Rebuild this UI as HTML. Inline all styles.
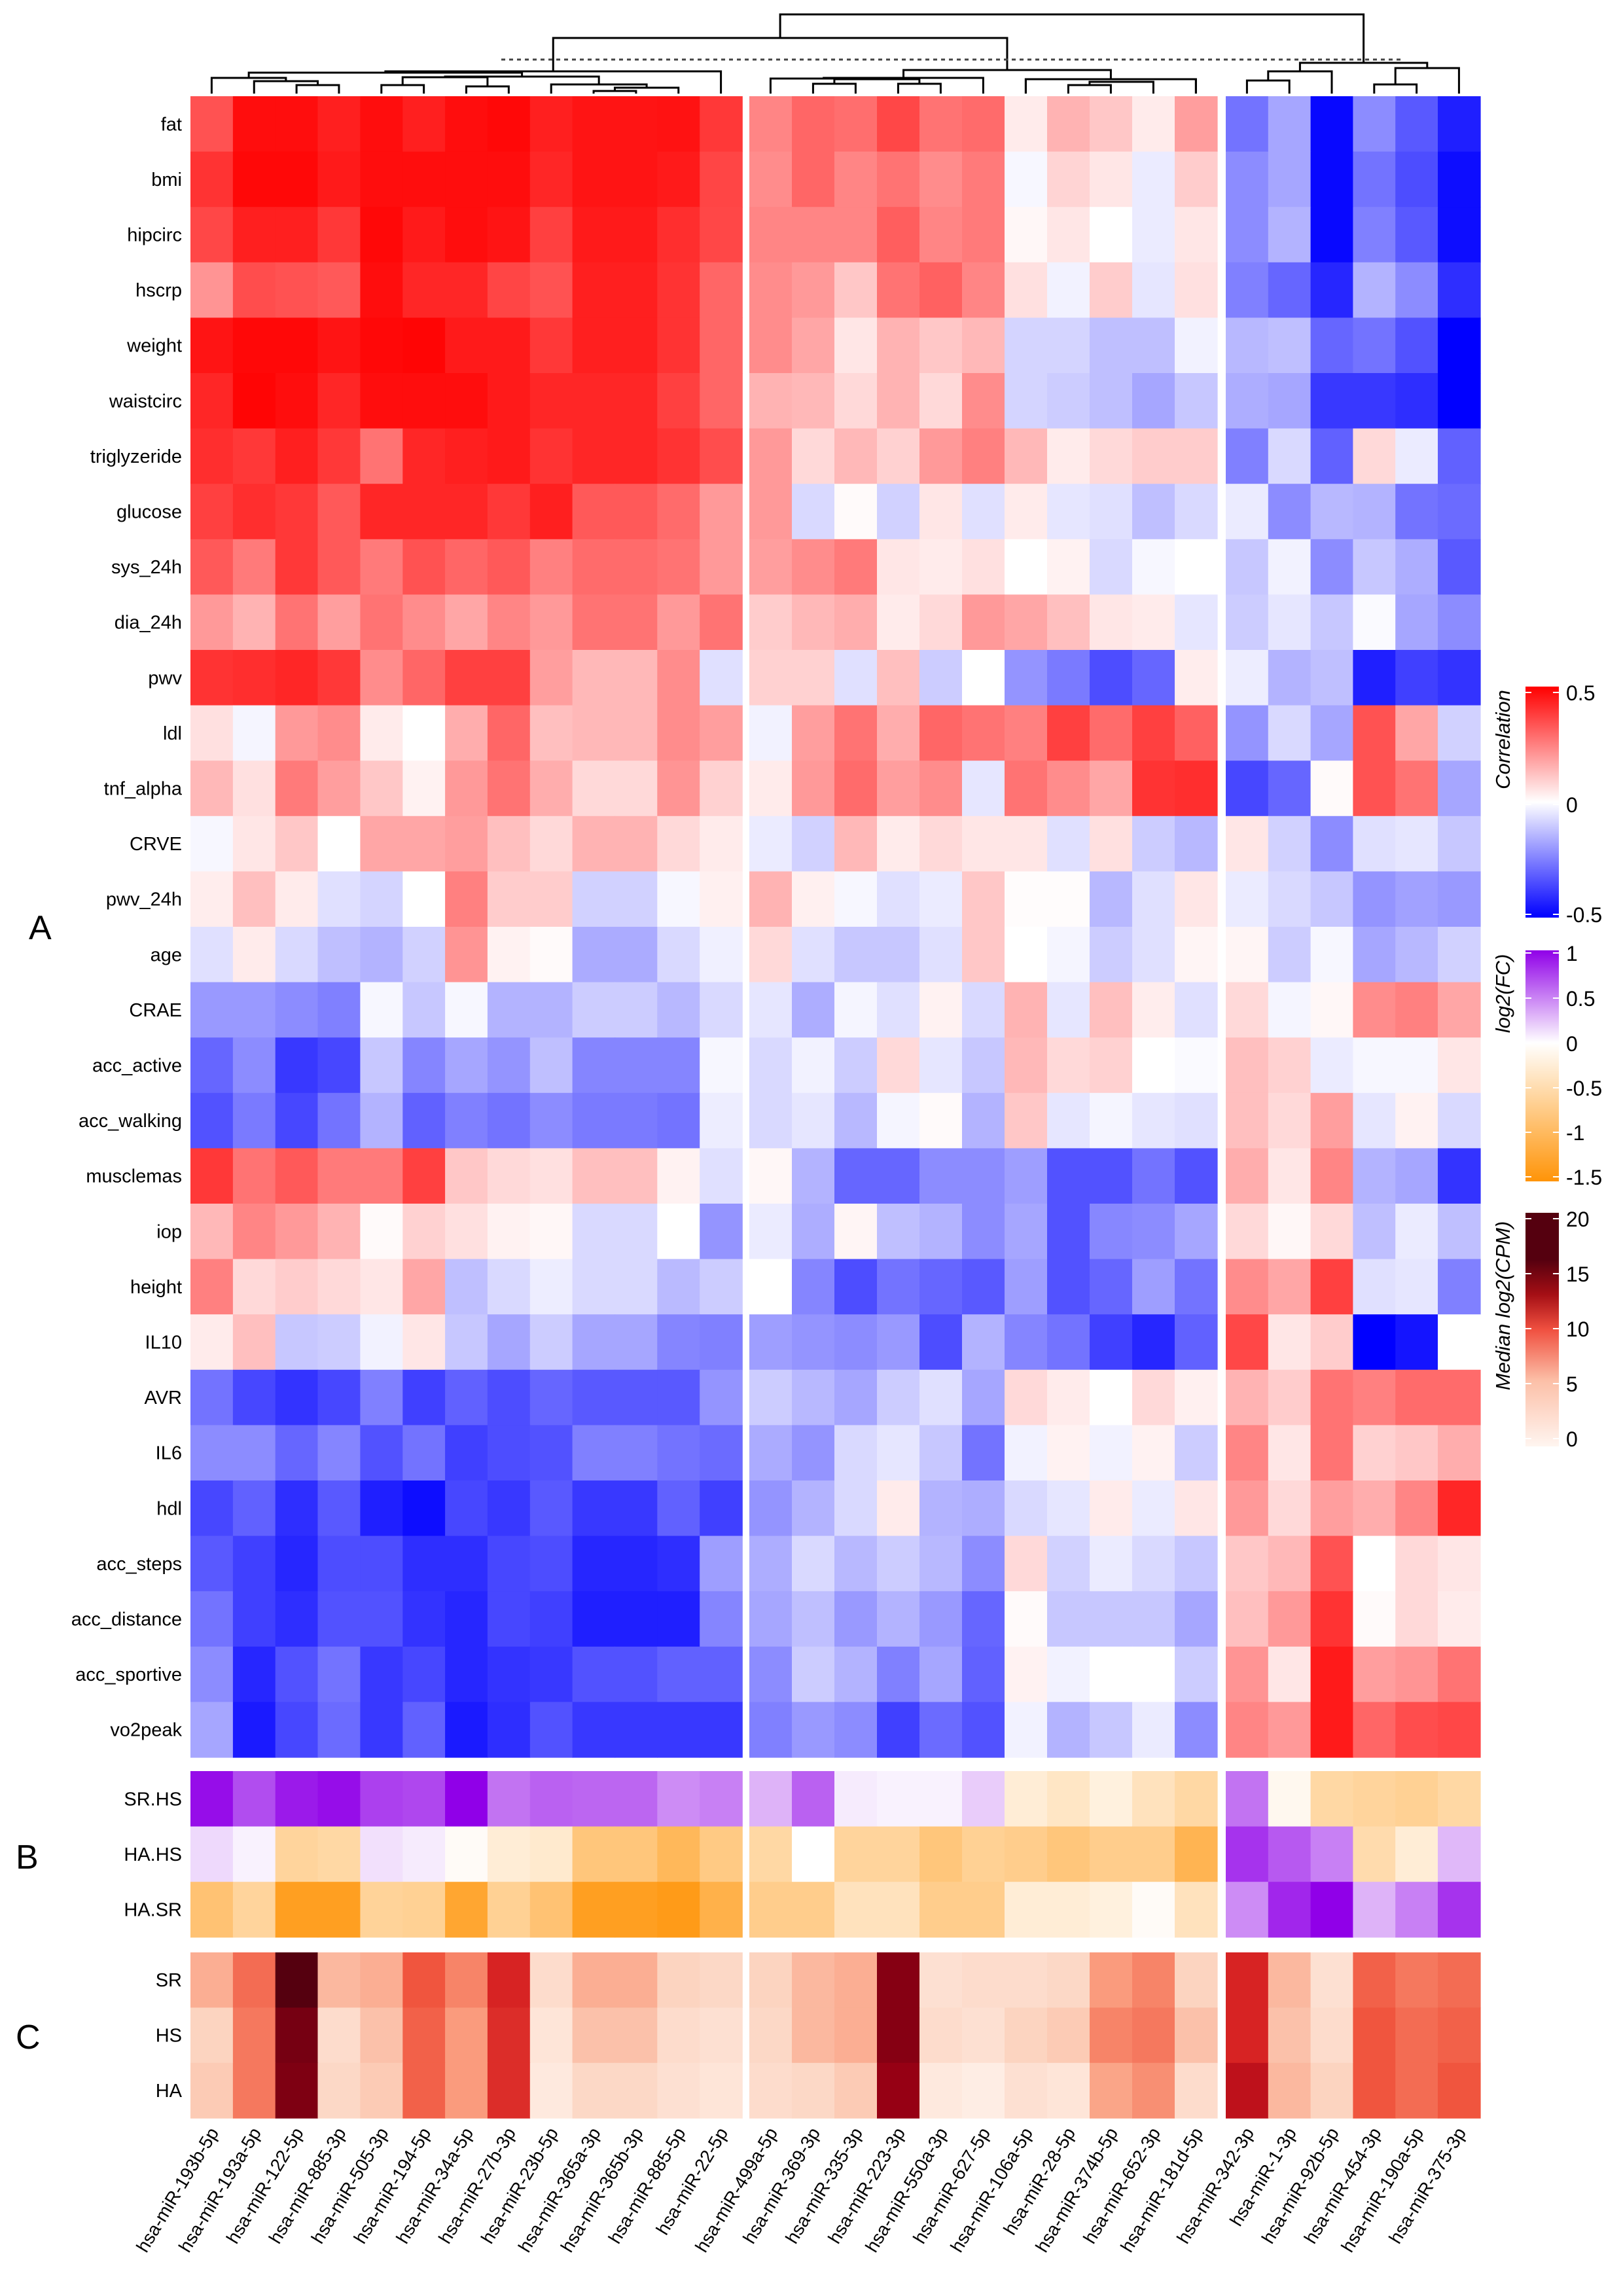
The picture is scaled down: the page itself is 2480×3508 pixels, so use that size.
<!DOCTYPE html>
<html><head><meta charset="utf-8"><style>
html,body{margin:0;padding:0;background:#fff}
svg{display:block}
text{font-family:"Liberation Sans",Arial,sans-serif}
</style></head><body>
<svg id="s" width="2480" height="3508" xmlns="http://www.w3.org/2000/svg">
<defs>
<linearGradient id="gc" x1="0" y1="0" x2="0" y2="1"><stop offset="0" stop-color="#ff0000"/><stop offset="0.5" stop-color="#ffffff"/><stop offset="1" stop-color="#0000ff"/></linearGradient>
<linearGradient id="gf" x1="0" y1="0" x2="0" y2="1"><stop offset="0" stop-color="#9000e8"/><stop offset="0.4" stop-color="#ffffff"/><stop offset="1" stop-color="#ff9408"/></linearGradient>
<linearGradient id="gm" x1="0" y1="0" x2="0" y2="1"><stop offset="0" stop-color="#55000f"/><stop offset="0.2" stop-color="#55000f"/><stop offset="0.35" stop-color="#a50f15"/><stop offset="0.5" stop-color="#f05040"/><stop offset="0.72" stop-color="#fcc0a8"/><stop offset="1" stop-color="#fff5f0"/></linearGradient>
</defs>
<g id="cells"></g>
<g id="lab"></g>
<g stroke="#000" stroke-width="3" fill="none" id="dend"></g>
<line x1="766" y1="91" x2="2143" y2="91" stroke="#444" stroke-width="3" stroke-dasharray="6,6"/>
<text x="44" y="1435" font-size="52">A</text>
<text x="24" y="2855" font-size="52">B</text>
<text x="24" y="3130" font-size="52">C</text>
<rect x="2331" y="1049" width="51" height="353" fill="url(#gc)"/>
<rect x="2331" y="1452" width="51" height="353" fill="url(#gf)"/>
<rect x="2331" y="1853" width="51" height="357" fill="url(#gm)"/>
<g font-size="32">
<text x="2393" y="1070">0.5</text><text x="2393" y="1241">0</text><text x="2393" y="1409">-0.5</text>
<text x="2393" y="1468">1</text><text x="2393" y="1537">0.5</text><text x="2393" y="1606">0</text><text x="2393" y="1674">-0.5</text><text x="2393" y="1742">-1</text><text x="2393" y="1810">-1.5</text>
<text x="2393" y="1874">20</text><text x="2393" y="1958">15</text><text x="2393" y="2042">10</text><text x="2393" y="2126">5</text><text x="2393" y="2210">0</text>
</g>
<g font-size="31" font-style="italic" text-anchor="middle">
<text transform="translate(2307,1130) rotate(-90)">Correlation</text>
<text transform="translate(2307,1518) rotate(-90)">log2(FC)</text>
<text transform="translate(2307,1995) rotate(-90)">Median log2(CPM)</text>
</g>
<g id="ticks" stroke="#fff" stroke-width="2"></g>
</svg>
<script>
var NS="http://www.w3.org/2000/svg";
function el(n,a,p,t){var e=document.createElementNS(NS,n);for(var k in a)e.setAttribute(k,a[k]);if(t)e.textContent=t;p.appendChild(e);return e;}
var cols=["hsa-miR-193b-5p","hsa-miR-193a-5p","hsa-miR-122-5p","hsa-miR-885-3p","hsa-miR-505-3p","hsa-miR-194-5p","hsa-miR-34a-5p","hsa-miR-27b-3p","hsa-miR-23b-5p","hsa-miR-365a-3p","hsa-miR-365b-3p","hsa-miR-885-5p","hsa-miR-22-5p","hsa-miR-499a-5p","hsa-miR-369-3p","hsa-miR-335-3p","hsa-miR-223-3p","hsa-miR-550a-3p","hsa-miR-627-5p","hsa-miR-106a-5p","hsa-miR-28-5p","hsa-miR-374b-5p","hsa-miR-652-3p","hsa-miR-181d-5p","hsa-miR-342-3p","hsa-miR-1-3p","hsa-miR-92b-5p","hsa-miR-454-3p","hsa-miR-190a-5p","hsa-miR-375-3p"];
function cx(i){if(i<13)return 291+i*64.85;if(i<24)return 1145+(i-13)*65;return 1873+(i-24)*64.8;}
var A=[
["fat",[68,95,95,88,95,88,95,97,88,92,92,93,78,48,60,57,72,55,58,8,30,22,8,38,-55,-35,-97,-45,-65,-88]],
["bmi",[80,97,97,90,95,95,95,95,85,92,92,90,73,45,60,48,55,45,52,-3,17,10,-8,20,-45,-35,-97,-55,-70,-95]],
["hipcirc",[72,88,88,78,97,90,95,92,75,90,90,82,72,48,48,48,63,48,52,3,10,0,-8,10,-45,-30,-97,-50,-65,-95]],
["hscrp",[42,70,68,65,95,85,85,73,68,88,88,80,60,45,40,22,55,62,48,12,-5,20,-10,12,-50,-60,-85,-30,-45,-82]],
["weight",[92,97,97,92,97,98,90,90,78,88,88,80,60,45,35,10,30,22,28,-17,-17,-25,-25,-5,-28,-25,-60,-55,-68,-100]],
["waistcirc",[85,98,95,85,95,95,95,90,85,85,85,75,60,30,28,15,30,15,45,-17,-20,-25,-35,-22,-32,-35,-78,-78,-82,-100]],
["triglyzeride",[82,78,88,78,55,85,88,90,80,85,85,80,70,40,15,28,18,40,50,28,8,15,20,20,-50,-15,-62,15,-8,-62]],
["glucose",[75,82,78,65,85,85,85,78,88,65,65,58,40,40,-15,2,-18,10,-12,8,-10,-12,-25,-15,-8,-45,-28,-30,-55,-58]],
["sys_24h",[65,52,78,65,52,68,60,65,50,58,58,55,40,38,45,52,10,8,12,0,5,-15,-3,0,-22,-5,-45,-22,-32,-65]],
["dia_24h",[40,30,55,38,55,45,35,48,40,55,55,40,55,20,28,32,8,15,40,35,25,10,8,-10,-20,-10,-22,-2,-35,-45]],
["pwv",[80,82,85,78,45,60,75,75,38,28,28,45,-12,18,18,-12,25,-20,0,-42,-52,-70,-60,7,-7,-30,-25,-88,-75,-80]],
["ldl",[12,-4,40,45,8,0,32,60,25,28,28,45,38,-5,38,55,32,60,55,50,75,58,75,62,-42,-15,-35,68,35,-18]],
["tnf_alpha",[28,12,52,38,22,5,40,55,32,15,15,42,18,8,40,58,38,45,-10,55,45,35,80,82,-72,-60,2,68,55,-35]],
["CRVE",[-3,10,22,0,35,35,38,25,15,30,30,15,8,-8,-18,28,8,15,10,10,-12,12,-20,-28,10,-18,-45,-12,-10,-22]],
["pwv_24h",[7,25,8,-12,-17,0,50,20,20,-18,-18,-3,6,30,6,-3,-12,-8,22,1,1,-28,-12,10,-8,-15,-22,-42,-37,-40]],
["age",[-12,8,-15,-25,-30,-18,42,5,2,-33,-33,-15,-6,15,-12,-22,-22,-12,22,0,-4,-20,-12,4,4,-20,-3,-35,-28,-18]],
["CRAE",[-40,-40,-45,-50,-3,-22,-3,-30,-30,-20,-20,-28,-15,-10,-32,-4,-12,5,-15,30,-10,25,7,-12,15,-4,3,45,50,35]],
["acc_active",[-60,-45,-78,-72,-22,-48,-35,-42,-25,-48,-48,-48,-3,-15,-5,-20,15,-10,-22,28,15,18,0,-2,25,18,-8,-3,-3,10]],
["acc_walking",[-68,-52,-72,-55,-30,-62,-50,-55,-45,-52,-52,-55,-7,-15,-10,-28,-4,2,-30,22,-10,-4,-10,-12,25,15,38,-10,5,-15]],
["musclemas",[78,55,65,52,52,75,22,15,12,25,25,5,-12,3,-30,-60,-60,-45,-45,-38,-68,-68,-55,-68,32,10,48,-30,-35,-80]],
["iop",[28,48,40,30,2,18,12,5,3,-15,-15,0,-42,-8,-32,4,-25,-30,-45,-35,-68,-47,-45,-35,15,3,15,-25,-8,-25]],
["height",[50,15,20,15,10,35,-25,-15,-7,-15,-15,-27,-20,0,-48,-70,-55,-60,-65,-38,-68,-60,-38,-55,45,35,75,-12,-10,-50]],
["IL10",[8,25,-22,-20,-5,10,-22,-35,-20,-35,-35,-48,-50,-38,-42,-45,-40,-70,-30,-48,-55,-75,-85,-62,72,10,20,-100,-92,0]],
["AVR",[-55,-72,-80,-72,-50,-75,-62,-70,-60,-65,-65,-65,-42,-20,-28,-35,-20,-12,-35,15,8,0,15,6,30,20,55,50,58,58]],
["IL6",[-45,-45,-60,-48,-68,-55,-75,-70,-68,-50,-50,-55,-58,-33,-42,-15,-10,-22,-55,-5,5,-5,5,-20,48,10,55,18,22,32]],
["hdl",[-72,-62,-82,-65,-88,-95,-72,-78,-65,-78,-78,-62,-75,-42,-30,-15,8,-30,-32,-15,-10,8,-8,10,40,15,38,32,48,85]],
["acc_steps",[-65,-75,-85,-70,-70,-82,-82,-72,-70,-85,-85,-82,-38,-32,-15,-28,-20,-28,-45,15,-18,-8,-15,-22,22,28,68,0,15,10]],
["acc_distance",[-55,-75,-82,-68,-68,-80,-85,-72,-75,-88,-88,-88,-48,-35,-25,-40,-30,-40,-60,2,-22,-22,-22,-35,25,40,80,2,15,8]],
["acc_sportive",[-45,-85,-68,-55,-78,-72,-85,-80,-78,-68,-68,-62,-62,-45,-20,-30,-50,-35,-62,5,-5,0,0,-20,42,10,90,38,42,55]],
["vo2peak",[-35,-90,-72,-58,-78,-62,-90,-82,-68,-78,-78,-78,-78,-50,-40,-45,-75,-58,-68,-5,-30,-22,-8,-45,48,40,90,60,70,72]]];
var B=[
["SR.HS",[0.95,0.7,0.9,0.95,0.75,0.72,1.0,0.55,0.62,0.6,0.6,0.45,0.5,0.3,0.62,0.08,0.05,0.05,0.2,-0.25,-0.35,-0.2,-0.4,-0.55,0.55,-0.1,-0.55,-0.6,-0.65,-0.55]],
["HA.HS",[0.15,0.05,-0.6,-0.55,0.12,0.08,-0.05,-0.25,-0.3,-0.8,-0.8,-1.0,-0.75,-0.55,0,-0.6,-0.6,-0.8,-0.65,-0.7,-0.8,-0.7,-0.7,-1.05,0.8,0.65,0.5,-0.5,-0.25,0.28]],
["HA.SR",[-0.85,-0.6,-1.35,-1.35,-0.62,-0.65,-1.25,-0.65,-0.85,-1.35,-1.35,-1.4,-1.1,-0.7,-0.7,-0.4,-0.4,-0.7,-0.7,-0.25,-0.25,-0.2,-0.05,-0.4,0.45,0.85,1.0,0.3,0.5,0.8]]];
var C=[
["SR",[6,9,20,5.5,6,10,8,12.5,3,6,6,4,3.5,4,5.5,6,17,2.5,3,3,3.5,7,8,4,12.5,5.5,2.5,9.5,8.5,9]],
["HS",[4,8.5,18,3,5,9.5,7,12,2,5,5,3,2.5,3.5,5.5,6,17,3,2.5,4,4.5,8,8.5,5,12.5,5,3,10,9,9.5]],
["HA",[4.5,8.5,17.5,3.5,4.5,9.5,7,12,1.5,3.5,3.5,2.5,2,3,3.5,4.5,16,1.5,1,2.5,2,6.5,7.5,3,14,5.5,4,10,9,10]]];
function mix(a,b,t){return "rgb("+[0,1,2].map(function(i){return Math.round(a[i]+(b[i]-a[i])*t)}).join(",")+")";}
function cCor(v){var t=Math.min(1,Math.abs(v)/100);return v>=0?mix([255,255,255],[255,0,0],t):mix([255,255,255],[0,0,255],t);}
function cFC(v){return v>=0?mix([255,255,255],[144,0,232],Math.min(1,v)):mix([255,255,255],[255,148,8],Math.min(1,-v/1.5));}
var st=[[0,[255,245,240]],[4,[252,212,192]],[7,[250,155,125]],[10,[240,85,62]],[13,[210,25,30]],[16,[150,0,20]],[20,[85,0,15]]];
function cCPM(v){for(var i=0;i<st.length-1;i++){if(v<=st[i+1][0]){return mix(st[i][1],st[i+1][1],(v-st[i][0])/(st[i+1][0]-st[i][0]));}}return mix(st[6][1],st[6][1],0);}
var g=document.getElementById("cells"),L=document.getElementById("lab");
function block(rows,y0,h,f){rows.forEach(function(r,ri){var y=y0+ri*h;
 el("text",{x:278,y:y+h/2+10,"font-size":29,"text-anchor":"end"},L,r[0]);
 r[1].forEach(function(v,ci){el("rect",{x:cx(ci).toFixed(1),y:y.toFixed(1),width:65.6,height:(h+0.6).toFixed(1),fill:f(v)},g);});});}
block(A,147,84.6,cCor);block(B,2706,84.6,cFC);block(C,2983,84.4,cCPM);
cols.forEach(function(c,i){var x=cx(i)+32+12,y=3258;el("text",{transform:"translate("+x+","+y+") rotate(-59)","font-size":28,"text-anchor":"end"},L,c);});
// dendrogram
var D=document.getElementById("dend");
function c(i){return cx(i)+32.4;}
function br(x1,x2,y,ya,yb){el("path",{d:"M"+x1+" "+ya+"V"+y+"H"+x2+"V"+yb},D);}
var leaf=143;
// group1
br(c(2),c(3),130,leaf,leaf); var a=(c(2)+c(3))/2;
br(c(1),a,124,leaf,130); var b=(c(1)+a)/2;
br(c(0),b,119,leaf,124); var g1a=(c(0)+b)/2;
br(c(4),c(5),130,leaf,leaf); br(c(6),c(7),132,leaf,leaf);
var p=(c(4)+c(5))/2,q=(c(6)+c(7))/2; br(p,q,118,130,132); var g1b=(p+q)/2;
br(c(9),c(10),139,leaf,leaf); var r=(c(9)+c(10))/2;
br(r,c(11),134,139,leaf); var s2=(r+c(11))/2;
br(c(8),s2,129,leaf,134); var g1c=(c(8)+s2)/2;
br(g1b,g1c,117,118,129); var g1d=(g1b+g1c)/2;
br(g1a,g1d,111,119,117); var g1e=(g1a+g1d)/2;
br(g1e,c(12),109,111,leaf); var G1=(g1e+c(12))/2;
// group2
br(c(14),c(15),128,leaf,leaf); br(c(16),c(17),128,leaf,leaf);
var u=(c(14)+c(15))/2,w=(c(16)+c(17))/2; br(u,w,121,128,128); var x2=(u+w)/2;
br(c(13),x2,120,leaf,121); var x3=(c(13)+x2)/2;
br(x3,c(18),119,120,leaf); var G2a=(x3+c(18))/2;
br(c(20),c(21),130,leaf,leaf); var y1=(c(20)+c(21))/2;
br(y1,c(22),125,130,leaf); var y2=(y1+c(22))/2;
br(c(19),c(23),121,leaf,leaf); br(c(19),c(23),121,leaf,leaf);
var G2b=(c(19)+c(23))/2; 
br(G2a,G2b,107,119,121); var G2=(G2a+G2b)/2;
// group3
br(c(24),c(25),123,leaf,leaf); var z1=(c(24)+c(25))/2;
br(z1,c(26),109,123,leaf); var z2=(z1+c(26))/2;
br(c(27),c(28),129,leaf,leaf); var z3=(c(27)+c(28))/2;
br(z3,c(29),104,129,leaf); var z4=(z3+c(29))/2;
br(z2,z4,96,109,104); var G3=(z2+z4)/2;
br(G1,G2,58,109,107); var H=(G1+G2)/2;
br(H,G3,22,58,96);
// legend ticks
var T=document.getElementById("ticks");
[1058,1229,1397,1456,1525,1594,1662,1730,1798,1862,1946,2030,2114,2198].forEach(function(y){el("line",{x1:2331,x2:2340,y1:y,y2:y},T);el("line",{x1:2373,x2:2382,y1:y,y2:y},T);});
</script>
</body></html>
